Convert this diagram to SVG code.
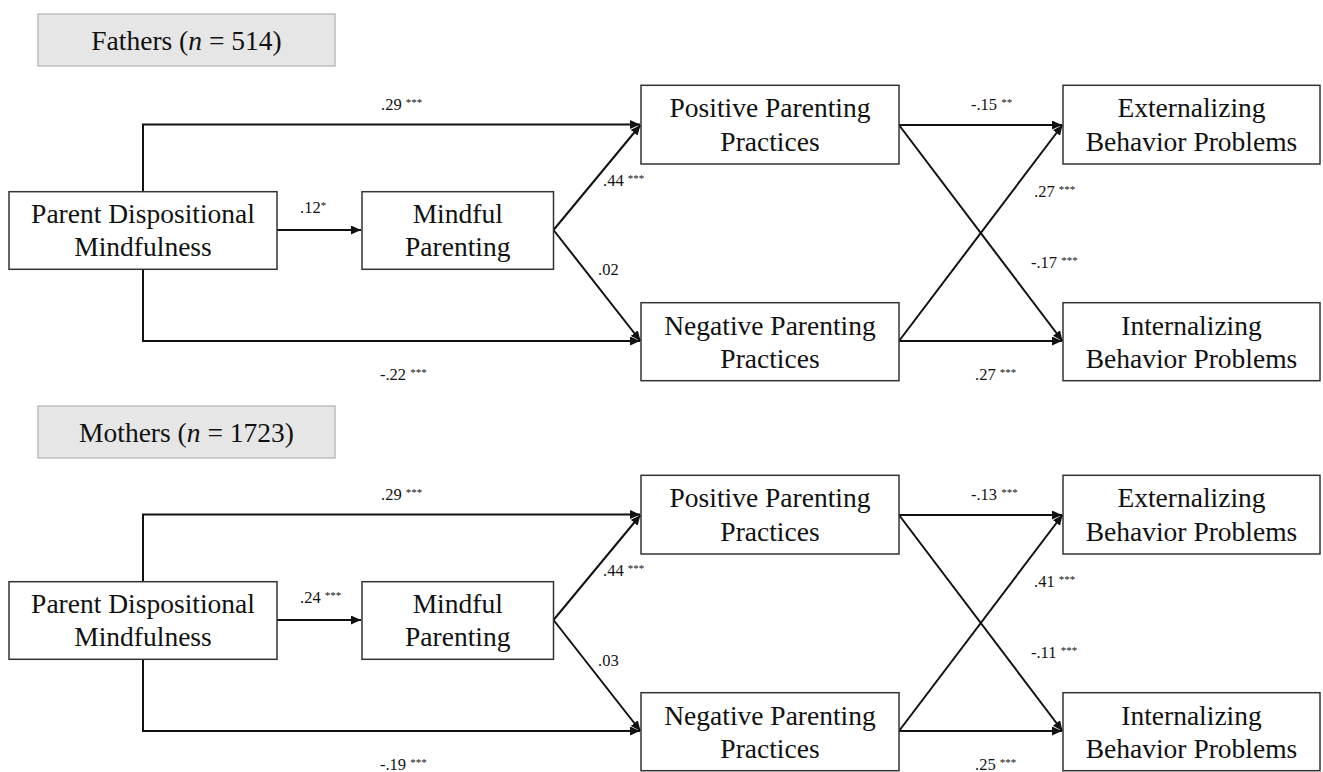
<svg xmlns="http://www.w3.org/2000/svg" width="1323" height="772" viewBox="0 0 1323 772">
<style>
.bg{fill:#ffffff}
.node{fill:#ffffff;stroke:#333333;stroke-width:1.5}
.title{fill:#e6e6e6;stroke:#bdbdbd;stroke-width:1.5}
.nt{font-family:"Liberation Serif","Times New Roman",serif;font-size:27.5px;fill:#111111;text-anchor:middle}
.lb{font-family:"Liberation Serif","Times New Roman",serif;font-size:16.5px;fill:#111111}
.st{font-size:11px}
.edge{fill:none;stroke:#111111;stroke-width:2;marker-end:url(#arr)}
</style>
<defs>
<marker id="arr" markerUnits="userSpaceOnUse" markerWidth="11" markerHeight="9" refX="10" refY="4.5" orient="auto">
<path d="M0,0 L10,4.5 L0,9 z" fill="#111111"/>
</marker>
</defs>
<rect class="bg" x="0" y="0" width="1323" height="772"/>

<g id="panel-fathers">
<g id="f-title"><rect class="title" x="38" y="14" width="297" height="52"/>
<text class="nt" x="186.5" y="50">Fathers (<tspan font-style="italic">n</tspan> = 514)</text></g>
<g id="f-connectors">
<path class="edge" d="M143,191.7 V124.5 H640"/>
<path class="edge" d="M143,269.3 V341 H640"/>
<path class="edge" d="M277,230 H361"/>
<path class="edge" d="M553.5,230 L640.5,125"/>
<path class="edge" d="M553.5,230 L640.5,341"/>
<path class="edge" d="M899,125 H1062"/>
<path class="edge" d="M899,125 L1062.5,341"/>
<path class="edge" d="M899,341 L1062.5,125"/>
<path class="edge" d="M899,341 H1062"/>
<text class="lb" x="381" y="110">.29 <tspan class="st" dy="-4">***</tspan></text>
<text class="lb" x="300" y="213">.12<tspan class="st" dy="-4">*</tspan></text>
<text class="lb" x="603" y="186">.44 <tspan class="st" dy="-4">***</tspan></text>
<text class="lb" x="598" y="275">.02</text>
<text class="lb" x="380" y="380">-.22 <tspan class="st" dy="-4">***</tspan></text>
<text class="lb" x="971" y="110">-.15 <tspan class="st" dy="-4">**</tspan></text>
<text class="lb" x="1034" y="197">.27 <tspan class="st" dy="-4">***</tspan></text>
<text class="lb" x="1031" y="268">-.17 <tspan class="st" dy="-4">***</tspan></text>
<text class="lb" x="975" y="380">.27 <tspan class="st" dy="-4">***</tspan></text>
</g>
<g id="f-pdm"><rect class="node" x="9" y="191.7" width="268" height="77.6"/>
<text class="nt" x="143" y="222.7">Parent Dispositional</text><text class="nt" x="143" y="256">Mindfulness</text></g>
<g id="f-mp"><rect class="node" x="362" y="191.7" width="191.5" height="77.6"/>
<text class="nt" x="457.75" y="222.7">Mindful</text><text class="nt" x="457.75" y="256">Parenting</text></g>
<g id="f-pos"><rect class="node" x="641" y="85.3" width="258" height="78.7"/>
<text class="nt" x="770" y="117.3">Positive Parenting</text><text class="nt" x="770" y="150.5">Practices</text></g>
<g id="f-neg"><rect class="node" x="641" y="302.7" width="258" height="78"/>
<text class="nt" x="770" y="334.5">Negative Parenting</text><text class="nt" x="770" y="367.5">Practices</text></g>
<g id="f-ext"><rect class="node" x="1063" y="85.3" width="257" height="78.7"/>
<text class="nt" x="1191.5" y="117.3">Externalizing</text><text class="nt" x="1191.5" y="150.5">Behavior Problems</text></g>
<g id="f-int"><rect class="node" x="1063" y="302.7" width="257" height="78"/>
<text class="nt" x="1191.5" y="334.5">Internalizing</text><text class="nt" x="1191.5" y="367.5">Behavior Problems</text></g>
</g>

<g id="panel-mothers">
<g id="m-title"><rect class="title" x="38" y="406" width="297" height="52"/>
<text class="nt" x="186.5" y="441.7">Mothers (<tspan font-style="italic">n</tspan> = 1723)</text></g>
<g id="m-connectors" transform="translate(0,390)">
<path class="edge" d="M143,191.7 V124.5 H640"/>
<path class="edge" d="M143,269.3 V341 H640"/>
<path class="edge" d="M277,230 H361"/>
<path class="edge" d="M553.5,230 L640.5,125"/>
<path class="edge" d="M553.5,230 L640.5,341"/>
<path class="edge" d="M899,125 H1062"/>
<path class="edge" d="M899,125 L1062.5,341"/>
<path class="edge" d="M899,341 L1062.5,125"/>
<path class="edge" d="M899,341 H1062"/>
<text class="lb" x="381" y="110">.29 <tspan class="st" dy="-4">***</tspan></text>
<text class="lb" x="300" y="213">.24 <tspan class="st" dy="-4">***</tspan></text>
<text class="lb" x="603" y="186">.44 <tspan class="st" dy="-4">***</tspan></text>
<text class="lb" x="598" y="276">.03</text>
<text class="lb" x="380" y="380">-.19 <tspan class="st" dy="-4">***</tspan></text>
<text class="lb" x="971" y="110">-.13 <tspan class="st" dy="-4">***</tspan></text>
<text class="lb" x="1034" y="197">.41 <tspan class="st" dy="-4">***</tspan></text>
<text class="lb" x="1031" y="268">-.11 <tspan class="st" dy="-4">***</tspan></text>
<text class="lb" x="975" y="380">.25 <tspan class="st" dy="-4">***</tspan></text>
</g>
<g id="m-pdm" transform="translate(0,390)"><rect class="node" x="9" y="191.7" width="268" height="77.6"/>
<text class="nt" x="143" y="222.7">Parent Dispositional</text><text class="nt" x="143" y="256">Mindfulness</text></g>
<g id="m-mp" transform="translate(0,390)"><rect class="node" x="362" y="191.7" width="191.5" height="77.6"/>
<text class="nt" x="457.75" y="222.7">Mindful</text><text class="nt" x="457.75" y="256">Parenting</text></g>
<g id="m-pos" transform="translate(0,390)"><rect class="node" x="641" y="85.3" width="258" height="78.7"/>
<text class="nt" x="770" y="117.3">Positive Parenting</text><text class="nt" x="770" y="150.5">Practices</text></g>
<g id="m-neg" transform="translate(0,390)"><rect class="node" x="641" y="302.7" width="258" height="78"/>
<text class="nt" x="770" y="334.5">Negative Parenting</text><text class="nt" x="770" y="367.5">Practices</text></g>
<g id="m-ext" transform="translate(0,390)"><rect class="node" x="1063" y="85.3" width="257" height="78.7"/>
<text class="nt" x="1191.5" y="117.3">Externalizing</text><text class="nt" x="1191.5" y="150.5">Behavior Problems</text></g>
<g id="m-int" transform="translate(0,390)"><rect class="node" x="1063" y="302.7" width="257" height="78"/>
<text class="nt" x="1191.5" y="334.5">Internalizing</text><text class="nt" x="1191.5" y="367.5">Behavior Problems</text></g>
</g>
</svg>
